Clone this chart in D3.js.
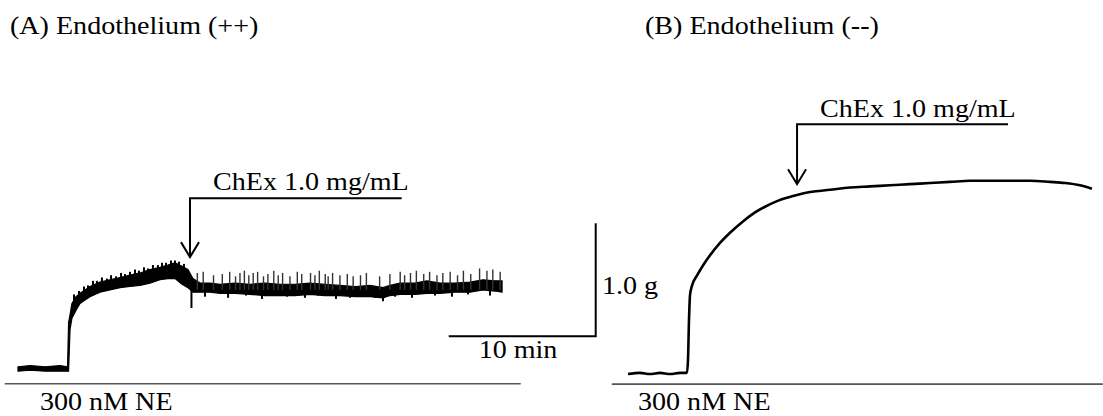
<!DOCTYPE html>
<html><head><meta charset="utf-8">
<script src="https://cdn.jsdelivr.net/npm/d3@7"></script>
<style>html,body{margin:0;padding:0;background:#fff;} svg{display:block;}</style>
</head><body>
<script>
// ---------- DATA (time in min, tension in g) ----------
// Panel A: noisy trace described by its upper and lower envelope
const traceA_t  = [0,0.82,1.84,2.86,3.37,3.44,3.54,3.67,3.95,4.22,4.56,4.90,5.58,6.26,6.94,7.62,8.30,8.98,9.66,10.20,10.68,11.16,11.56,11.90,12.38,13.06,13.74,14.76,15.78,16.80,17.82,18.84,19.86,20.88,21.90,22.93,23.95,24.83,25.31,25.99,27.01,27.82,28.71,29.73,30.75,31.63,32.45,32.93];
const traceA_hi = [0.02,0.03,0.02,0.03,0.02,0.41,0.48,0.58,0.64,0.67,0.70,0.73,0.77,0.79,0.81,0.83,0.85,0.88,0.90,0.92,0.94,0.91,0.88,0.80,0.76,0.76,0.75,0.76,0.75,0.76,0.75,0.75,0.76,0.75,0.74,0.73,0.74,0.72,0.74,0.76,0.76,0.78,0.76,0.76,0.77,0.79,0.78,0.78];
const traceA_lo = [-0.02,-0.01,-0.02,-0.02,-0.02,-0.02,0.35,0.45,0.52,0.58,0.61,0.64,0.68,0.70,0.72,0.73,0.74,0.76,0.79,0.80,0.80,0.75,0.72,0.68,0.68,0.68,0.67,0.67,0.66,0.65,0.65,0.65,0.66,0.65,0.65,0.64,0.64,0.63,0.65,0.66,0.66,0.67,0.67,0.68,0.68,0.70,0.69,0.68];
// short ripples on the rising phase (time, peak)
const rippleA_t = [3.81,4.15,4.49,4.76,5.10,5.37,5.71,6.05,6.33,6.67,7.01,7.28,7.62,7.96,8.23,8.57,8.84,9.18,9.52,9.80,10.07,10.41,10.68,10.95,11.29];
const rippleA_g = [0.66,0.69,0.73,0.74,0.78,0.78,0.81,0.80,0.83,0.82,0.85,0.84,0.86,0.88,0.87,0.90,0.89,0.92,0.92,0.94,0.94,0.96,0.96,0.95,0.93];
// upward spikes after ChEx (time, peak)
const spikeUp_t = [12.2,12.6,13.3,13.9,14.4,14.8,15.1,15.4,15.7,16.0,16.3,16.7,17.0,17.4,17.7,18.0,18.5,19.0,19.3,19.9,20.2,20.5,20.9,21.1,21.4,21.9,22.4,22.8,23.3,23.7,24.6,25.3,26.0,26.3,26.7,27.1,27.6,28.0,28.5,28.9,29.4,29.9,30.3,30.8,31.4,31.9,32.3,32.8];
const spikeUp_g = [0.85,0.86,0.83,0.84,0.86,0.82,0.85,0.87,0.83,0.85,0.86,0.82,0.84,0.87,0.83,0.85,0.82,0.86,0.84,0.85,0.83,0.87,0.84,0.82,0.85,0.83,0.84,0.82,0.83,0.85,0.82,0.84,0.86,0.83,0.85,0.87,0.84,0.86,0.83,0.85,0.86,0.83,0.87,0.84,0.89,0.87,0.88,0.86];
// downward spikes (time, trough)
const spikeDn_t = [11.8,12.72,14.29,15.51,16.60,18.30,19.52,20.41,21.63,22.59,23.40,24.29,24.83,25.65,26.80,28.37,29.52,30.61,32.11];
const spikeDn_g = [0.54,0.64,0.63,0.65,0.62,0.64,0.63,0.65,0.62,0.63,0.64,0.63,0.60,0.64,0.63,0.65,0.64,0.66,0.65];

// Panel B: smooth trace
const traceB_t = [0,0.82,1.50,2.18,2.86,3.54,4.01,4.08,4.15,4.22,4.35,4.69,5.10,5.58,6.26,6.94,7.82,8.64,9.32,10.14,10.82,11.50,12.38,13.74,15.10,16.46,17.82,19.18,20.54,21.90,23.27,24.63,25.99,27.35,28.71,29.73,30.75,31.56];
const traceB_g = [0,0.01,0,0.01,0,0.01,0.01,0.12,0.48,0.70,0.78,0.87,0.96,1.05,1.16,1.25,1.35,1.43,1.48,1.53,1.56,1.585,1.61,1.63,1.65,1.66,1.67,1.68,1.69,1.70,1.71,1.71,1.71,1.71,1.70,1.69,1.67,1.64];

// annotations: ChEx arrows [panel A, panel B]
const arrowT    = [11.7, 11.5];   // time of ChEx addition
const arrowTipG = [0.99, 1.68];
const arrowBarG = [1.51, 2.21];
const arrowEndT = [26.1, 25.85];
const neBarT    = [[-0.9, 34.2], [-1.1, 32.3]]; // NE application bars
const neBarG    = [-0.13, -0.09];
const scaleBar  = {t0: 29.3, t1: 39.3, g0: 0.29, g1: 1.29};

const titles = ["(A) Endothelium (++)", "(B) Endothelium (--)"];
const chexLabel = "ChEx 1.0 mg/mL";
const neLabel = "300 nM NE";

// ---------- DRAW ----------
const W = 1103, H = 416;
const svg = d3.select("body").append("svg").attr("width", W).attr("height", H);

const xA = d3.scaleLinear().domain([0, 40]).range([18, 18 + 14.7 * 40]);
const yA = d3.scaleLinear().domain([0, 1]).range([369, 256]);
const xB = d3.scaleLinear().domain([0, 40]).range([628, 628 + 14.7 * 40]);
const yB = d3.scaleLinear().domain([0, 1]).range([374, 261]);
const sx = [xA, xB], sy = [yA, yB];

const FONT = "'Liberation Serif','Times New Roman',serif";
function label(x, y, txt, anchor) {
  svg.append("text")
    .attr("transform", `translate(${x},${y}) scale(1.08,1)`)
    .attr("text-anchor", anchor || "start")
    .attr("font-family", FONT).attr("font-size", 26).attr("fill", "#000")
    .text(txt);
}

// NE bars
neBarT.forEach((r, i) => {
  svg.append("line")
    .attr("x1", sx[i](r[0])).attr("x2", sx[i](r[1]))
    .attr("y1", sy[i](neBarG[i])).attr("y2", sy[i](neBarG[i]))
    .attr("stroke", "#555").attr("stroke-width", 1.6);
});

// Panel A trace (band)
const dA = traceA_t.map((t, i) => ({t, hi: traceA_hi[i], lo: traceA_lo[i]}));
svg.append("path").datum(dA)
  .attr("d", d3.area().x(d => xA(d.t)).y0(d => yA(d.lo)).y1(d => yA(d.hi)))
  .attr("fill", "#000").attr("stroke", "#000").attr("stroke-width", 1.2).attr("stroke-linejoin", "round");
// ripples on rise
svg.append("g").selectAll("line").data(rippleA_t.map((t, i) => ({t, g: rippleA_g[i]})))
  .join("line")
  .attr("x1", d => xA(d.t)).attr("x2", d => xA(d.t))
  .attr("y1", d => yA(d.g - 0.08)).attr("y2", d => yA(d.g))
  .attr("stroke", "#000").attr("stroke-width", 2);
// spikes
svg.append("g").selectAll("line").data(spikeUp_t.map((t, i) => ({t, g: spikeUp_g[i]})))
  .join("line")
  .attr("x1", d => xA(d.t)).attr("x2", d => xA(d.t))
  .attr("y1", d => yA(0.70)).attr("y2", d => yA(d.g))
  .attr("stroke", "#333").attr("stroke-width", 1.4);
svg.append("g").selectAll("line").data(spikeDn_t.map((t, i) => ({t, g: spikeDn_g[i]})))
  .join("line")
  .attr("x1", d => xA(d.t)).attr("x2", d => xA(d.t))
  .attr("y1", d => yA(0.70)).attr("y2", d => yA(d.g))
  .attr("stroke", "#000").attr("stroke-width", 2);

// Panel B trace
const dB = traceB_t.map((t, i) => ({t, g: traceB_g[i]}));
svg.append("path").datum(dB)
  .attr("d", d3.line().x(d => xB(d.t)).y(d => yB(d.g)).curve(d3.curveMonotoneX))
  .attr("fill", "none").attr("stroke", "#000").attr("stroke-width", 2.6);

// ChEx arrows
arrowT.forEach((t, i) => {
  const X = sx[i], Y = sy[i];
  const x0 = X(t), yb = Y(arrowBarG[i]), yt = Y(arrowTipG[i]);
  svg.append("path")
    .attr("d", `M${X(arrowEndT[i])},${yb}H${x0}V${yt}`)
    .attr("fill", "none").attr("stroke", "#000").attr("stroke-width", 2);
  svg.append("path")
    .attr("d", `M${x0 - 9},${yt - 15}L${x0},${yt}L${x0 + 9},${yt - 15}`)
    .attr("fill", "none").attr("stroke", "#000").attr("stroke-width", 2);
});

// Scale bar
svg.append("path")
  .attr("d", `M${xA(scaleBar.t0)},${yA(scaleBar.g0)}H${xA(scaleBar.t1)}V${yA(scaleBar.g1)}`)
  .attr("fill", "none").attr("stroke", "#000").attr("stroke-width", 2);

// Texts
label(10, 34, titles[0]);
label(645, 34, titles[1]);
label(213, 190, chexLabel);
label(820, 117, chexLabel);
label(602, 294, "1.0 g");
label(518, 358, "10 min", "middle");
label(40, 410, neLabel);
label(638, 410, neLabel);
</script>
</body></html>
